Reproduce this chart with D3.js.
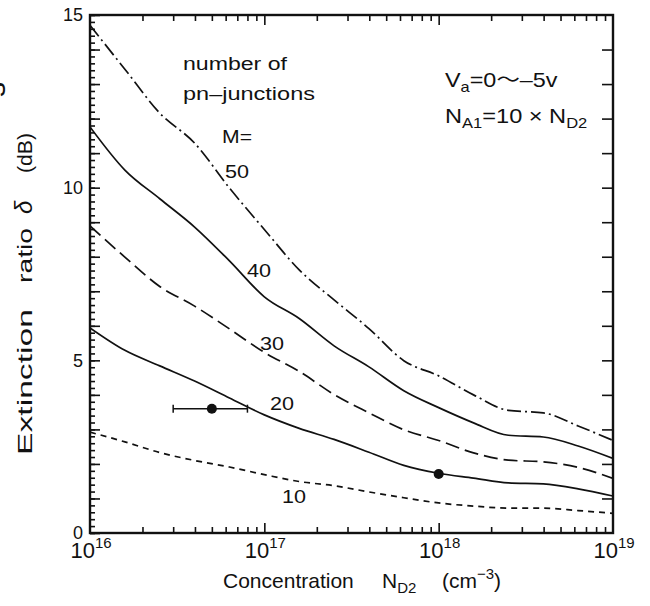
<!DOCTYPE html>
<html><head><meta charset="utf-8">
<script src="https://cdn.jsdelivr.net/npm/d3@7"></script>
<style>
body{margin:0;background:#fff}
svg{display:block}
text{font-family:"Liberation Sans",Arial,Helvetica,sans-serif;fill:#111}
</style>
</head><body>
<svg id="chart" width="650" height="606"></svg>
<script>
// ---------- data ----------
const exponents = [16.0,16.2,16.4,16.6,16.8,17.0,17.2,17.4,17.6,17.8,18.0,18.2,18.4,18.6,18.8,19.0];
const m10 = [2.92,2.64,2.33,2.10,1.91,1.69,1.49,1.37,1.19,1.02,0.87,0.78,0.72,0.72,0.65,0.57];
const m20 = [5.94,5.29,4.84,4.40,3.91,3.42,3.03,2.71,2.34,1.96,1.73,1.59,1.45,1.42,1.28,1.07];
const m30 = [8.89,7.99,7.14,6.57,5.91,5.23,4.68,4.01,3.48,2.99,2.68,2.32,2.11,2.06,1.90,1.58];
const m40 = [11.76,10.51,9.68,8.86,7.88,6.84,6.21,5.42,4.81,4.12,3.63,3.19,2.83,2.78,2.52,2.16];
const m50 = [14.70,13.43,12.16,11.29,9.99,8.79,7.62,6.75,5.92,4.99,4.55,4.00,3.55,3.48,3.10,2.68];
const seriesNames = ["10","20","30","40","50"];
const measuredN = [5e16, 1e18];
const measuredDelta = [3.6, 1.71];
const measuredLow = [3e16, null];
const measuredHigh = [8e16, null];
const yTickLabels = [0,5,10,15];
const xDecades = [16,17,18,19];

// ---------- layout ----------
const svg = d3.select("#chart");
const L = 90, R = 613, T = 15, B = 533;
const x = d3.scaleLog().domain([1e16,1e19]).range([L,R]);
const y = d3.scaleLinear().domain([0,15]).range([B,T]);
const concentration = exponents.map(e => Math.pow(10,e));
const series = [m10,m20,m30,m40,m50];
const dashes = {"10":"6,5","20":null,"30":"14,6","40":null,"50":"14,4,2,4"};

svg.append("clipPath").attr("id","clip").append("rect")
  .attr("x",L).attr("y",T).attr("width",R-L).attr("height",B-T);

// ---------- ticks ----------
const minorX = [];
xDecades.slice(0,-1).forEach(d => { for (let k=2;k<=9;k++) minorX.push(k*Math.pow(10,d)); });
const majorX = xDecades.slice(1,-1).map(d => Math.pow(10,d));
const minorY = d3.range(0, 15.001, 0.2);
const majorY = d3.range(0, 16, 1);

function styleAxis(g){
  g.select(".domain").remove();
  g.selectAll(".tick line").attr("stroke","#111").attr("stroke-width",1.6);
  g.selectAll(".tick text").remove();
}
svg.append("g").attr("transform",`translate(0,${B})`)
  .call(d3.axisBottom(x).tickValues(minorX).tickSize(-6)).call(styleAxis);
svg.append("g").attr("transform",`translate(0,${B})`)
  .call(d3.axisBottom(x).tickValues(majorX).tickSize(-10)).call(styleAxis);
svg.append("g").attr("transform",`translate(0,${T})`)
  .call(d3.axisTop(x).tickValues(minorX).tickSize(-6)).call(styleAxis);
svg.append("g").attr("transform",`translate(0,${T})`)
  .call(d3.axisTop(x).tickValues(majorX).tickSize(-10)).call(styleAxis);
svg.append("g").attr("transform",`translate(${L},0)`)
  .call(d3.axisLeft(y).tickValues(minorY).tickSize(-5)).call(styleAxis);
svg.append("g").attr("transform",`translate(${L},0)`)
  .call(d3.axisLeft(y).tickValues(majorY).tickSize(-10)).call(styleAxis);
svg.append("g").attr("transform",`translate(${R},0)`)
  .call(d3.axisRight(y).tickValues(majorY.slice(1,-1)).tickSize(-11)).call(styleAxis);

// frame
svg.append("rect").attr("x",L).attr("y",T).attr("width",R-L).attr("height",B-T)
  .attr("fill","none").attr("stroke","#111").attr("stroke-width",2.4);

// y tick labels
svg.append("g").selectAll("text").data(yTickLabels).join("text")
  .attr("x",83).attr("y",d => y(d)).attr("dy","0.36em")
  .attr("text-anchor","end").attr("font-size",18).text(d => d);

// x tick labels
const xl = svg.append("g").selectAll("text").data(xDecades).join("text")
  .attr("x",d => x(Math.pow(10,d)) + 1).attr("y",558)
  .attr("text-anchor","middle").attr("font-size",22);
xl.append("tspan").text("10");
xl.append("tspan").attr("font-size",15).attr("dy",-10).text(d => d);

// ---------- curves ----------
const line = d3.line().x((d,i) => x(concentration[i])).y(d => y(d)).curve(d3.curveMonotoneX);
const cg = svg.append("g").attr("clip-path","url(#clip)");
series.forEach((s,k) => {
  cg.append("path").attr("d",line(s)).attr("fill","none")
    .attr("stroke","#111").attr("stroke-width",1.7)
    .attr("stroke-dasharray",dashes[seriesNames[k]]);
});

// measured points
measuredN.forEach((n,i) => {
  if (measuredLow[i] !== null) {
    const yy = y(measuredDelta[i]);
    cg.append("line").attr("x1",x(measuredLow[i])).attr("x2",x(measuredHigh[i]))
      .attr("y1",yy).attr("y2",yy).attr("stroke","#111").attr("stroke-width",1.5);
    [measuredLow[i],measuredHigh[i]].forEach(v => {
      cg.append("line").attr("x1",x(v)).attr("x2",x(v)).attr("y1",yy-4).attr("y2",yy+4)
        .attr("stroke","#111").attr("stroke-width",1.5);
    });
  }
  cg.append("circle").attr("cx",x(n)).attr("cy",y(measuredDelta[i])).attr("r",5).attr("fill","#111");
});

// ---------- annotations ----------
function fitText(txt, px, py, len, size){
  return svg.append("text").attr("x",px).attr("y",py).attr("font-size",size)
    .attr("textLength",len).attr("lengthAdjust","spacingAndGlyphs").text(txt);
}
fitText("number of",183,70,104,18);
fitText("pn\u2013junctions",183,100,132,18);
fitText("M=",222,143,30,18);
const curveLabels = [
  {t:seriesNames[4], x:225, y:178},
  {t:seriesNames[3], x:247, y:277},
  {t:seriesNames[2], x:260, y:350},
  {t:seriesNames[1], x:270, y:410},
  {t:seriesNames[0], x:282, y:503}
];
curveLabels.forEach(c => fitText(c.t, c.x, c.y, 24, 18));

// V_a and N_A1
const ann = svg.append("g").attr("transform","translate(445,87) scale(1.17,1)");
const t1 = ann.append("text").attr("font-size",20);
t1.append("tspan").text("V");
t1.append("tspan").attr("font-size",14).attr("dy",5).text("a");
t1.append("tspan").attr("dy",-5).text("=0");
t1.append("tspan").style("font-family","'Noto Sans CJK JP',sans-serif").text("\u301C");
t1.append("tspan").text("\u20135v");
const ann2 = svg.append("g").attr("transform","translate(445,123) scale(1.18,1)");
const t2 = ann2.append("text").attr("font-size",20);
t2.append("tspan").text("N");
t2.append("tspan").attr("font-size",14).attr("dy",5).text("A1");
t2.append("tspan").attr("dy",-5).text("=10 \u00D7 N");
t2.append("tspan").attr("font-size",14).attr("dy",5).text("D2");

// x axis title
const xt = svg.append("text").attr("y",588).attr("font-size",21);
xt.append("tspan").attr("x",223).text("Concentration");
xt.append("tspan").attr("x",382).text("N");
xt.append("tspan").attr("font-size",15).attr("dy",5).text("D2");
xt.append("tspan").attr("x",442).attr("dy",-5).text("(cm");
xt.append("tspan").attr("font-size",15).attr("dy",-9).text("\u22123");
xt.append("tspan").attr("dy",9).text(")");

// y axis title (rotated words)
function yWord(txt, bottom, len, size, italic){
  const t = svg.append("text").attr("transform",`translate(32,${bottom}) rotate(-90)`)
    .attr("font-size",size).text(txt);
  if (len) t.attr("textLength",len).attr("lengthAdjust","spacingAndGlyphs");
  if (italic) t.attr("font-style","italic");
  return t;
}
yWord("Extinction",455,146,21);
yWord("ratio",283,55,21);
yWord("\u03B4",214,null,24,true);
yWord("(dB)",173,40,21);

// partially visible letter at the left edge of the scan
svg.append("text").attr("transform","translate(5,97) rotate(-90)").attr("font-size",30).text("s");
</script>
</body></html>
